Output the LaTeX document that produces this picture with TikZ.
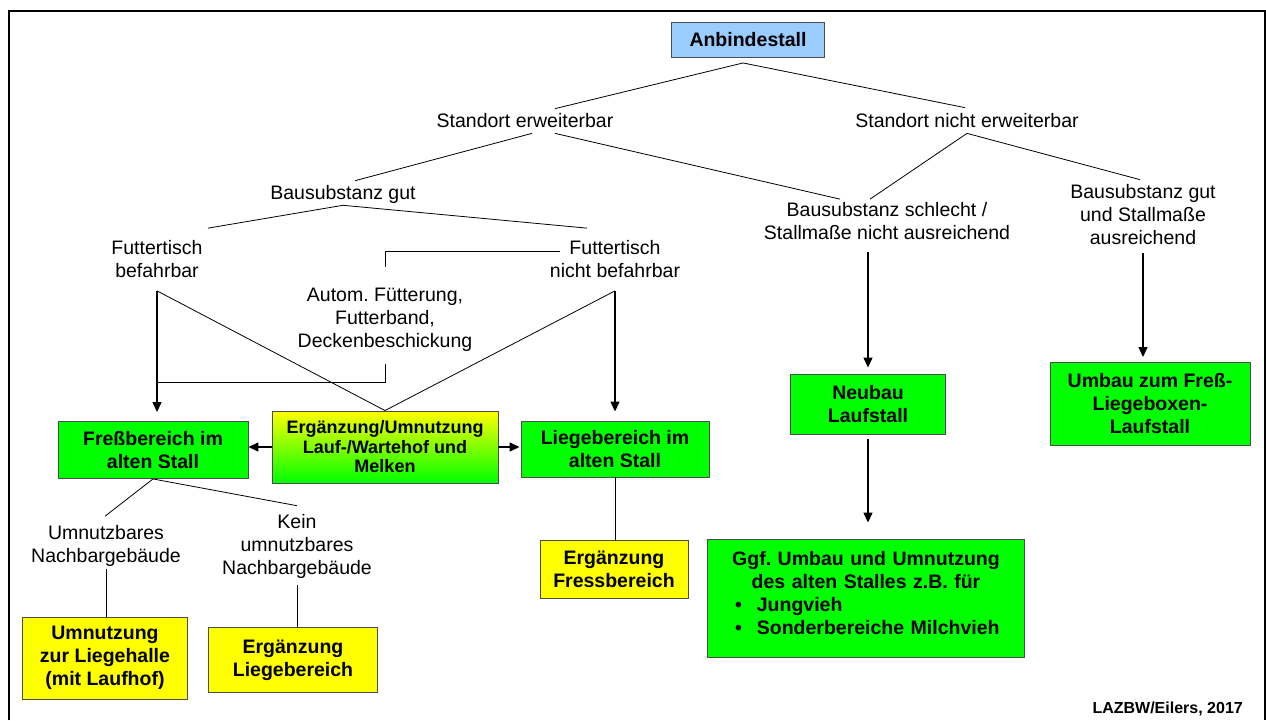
\documentclass[tikz,border=0pt]{standalone}
\usepackage{fontspec}
\setmainfont{Liberation Sans}
\usetikzlibrary{arrows.meta}

\definecolor{cBlau}{RGB}{153,204,255}
\definecolor{cGruen}{RGB}{0,255,0}
\definecolor{cGelb}{RGB}{255,255,0}

\tikzset{
  txt/.style={font=\fontsize{19.5}{23}\selectfont, align=center, inner sep=0pt},
  kasten/.style={draw=black!70, line width=0.9pt, font=\fontsize{19.5}{23}\selectfont\bfseries, align=center, inner sep=0pt},
  gruenbox/.style={kasten, fill=cGruen},
  gelbbox/.style={kasten, fill=cGelb},
  linie/.style={line width=0.8pt},
  pfeil/.style={line width=1.3pt, -{Triangle[length=10pt,width=9pt]}},
}

\begin{document}
\frenchspacing
\begin{tikzpicture}[x=1pt, y=-1pt]
    \useasboundingbox (0,0) rectangle (1266,720);

    % 枠
    \draw [line width=2pt] (9,720) -- (9,11) -- (1265,11) -- (1265,720);

    % ノードの定義
    \node[kasten, fill=cBlau, minimum width=153pt, minimum height=35pt] (anb) at (748,40) {Anbindestall};
    \node[txt] (se) at (525,121) {Standort erweiterbar};
    \node[txt] (sne) at (967,121) {Standort nicht erweiterbar};
    \node[txt] (bg) at (343,194) {Bausubstanz gut};
    \node[txt] (bs) at (887,221) {Bausubstanz schlecht /\\Stallmaße nicht ausreichend};
    \node[txt] (bga) at (1143,215) {Bausubstanz gut\\und Stallmaße\\ausreichend};
    \node[txt] (ftb) at (157,259) {Futtertisch\\befahrbar};
    \node[txt] (ftnb) at (615,259) {Futtertisch\\nicht befahrbar};
    \node[txt] (auto) at (385,320) {Autom. Fütterung,\\Futterband,\\Deckenbeschickung};
    \coordinate (zuf) at (157,382);

    \node[gruenbox, minimum width=190pt, minimum height=57pt] (fress) at (153,450) {Freßbereich im\\alten Stall};
    \node[kasten, top color=cGelb, bottom color=cGruen, minimum width=226pt, minimum height=72pt, font=\fontsize{18}{19.5}\selectfont\bfseries] (erg) at (385,447) {Ergänzung/Umnutzung\\Lauf-/Wartehof und\\Melken};
    \node[gruenbox, minimum width=188pt, minimum height=56pt] (lieg) at (615,449) {Liegebereich im\\alten Stall};
    \node[gruenbox, minimum width=155pt, minimum height=60pt] (neu) at (868,404) {Neubau\\Laufstall};
    \node[gruenbox, minimum width=200pt, minimum height=83pt] (umb) at (1150,404) {Umbau zum Freß-\\Liegeboxen-\\Laufstall};
    \node[gruenbox, minimum width=317pt, minimum height=118pt, text width=290pt, align=left] (ggf) at (866,598) {\centering Ggf. Umbau und Umnutzung\\des alten Stalles z.B. für\par\raggedright\hspace*{14pt}\textbullet\hspace{15pt}Jungvieh\\\hspace*{14pt}\textbullet\hspace{15pt}Sonderbereiche Milchvieh\rule[-10pt]{0pt}{10pt}};

    \node[txt] (un) at (106,546) {Umnutzbares\\Nachbargebäude};
    \node[txt] (kein) at (297,546) {Kein\\umnutzbares\\Nachbargebäude};
    \node[gelbbox, minimum width=165pt, minimum height=82pt] (uml) at (105,658) {Umnutzung\\zur Liegehalle\\(mit Laufhof)};
    \node[gelbbox, minimum width=169pt, minimum height=65pt] (ergl) at (293,660) {Ergänzung\\Liegebereich};
    \node[gelbbox, minimum width=148pt, minimum height=58pt] (ergf) at (614,569) {Ergänzung\\Fressbereich};

    \node[font=\fontsize{16}{19}\selectfont\bfseries, anchor=east, inner sep=0pt] (quelle) at (1243,709) {LAZBW/Eilers, 2017};

    % 線の描画
    \draw [linie] ([xshift=-5pt,yshift=-5pt]anb.south) -- ([xshift=30pt,yshift=5pt]se.north);
    \draw [linie] ([xshift=-5pt,yshift=-5pt]anb.south) -- ([xshift=-2pt,yshift=6pt]sne.north);
    \draw [linie] ([xshift=7pt,yshift=-5pt]se.south) -- ([xshift=12pt,yshift=4pt]bg.north);
    \draw [linie] ([xshift=30pt,yshift=-5pt]se.south) -- ([xshift=-47pt,yshift=3pt]bs.north);
    \draw [linie] ([yshift=-5pt]sne.south) -- ([xshift=-17pt,yshift=3pt]bs.north);
    \draw [linie] ([yshift=-5pt]sne.south) -- ([xshift=-3pt,yshift=5pt]bga.north);
    \draw [linie] ([yshift=-2pt]bg.south) -- ([xshift=51pt,yshift=12pt]ftb.north);
    \draw [linie] ([yshift=-2pt]bg.south) -- ([xshift=-28pt,yshift=12pt]ftnb.north);
    \draw [linie] ([xshift=10pt,yshift=8pt]ftnb.west) -| ([yshift=21pt]auto.north);
    \draw [linie] ([yshift=-12pt]auto.south) |- (zuf);
    \draw [linie] ([yshift=-13pt]ftb.south) -- (erg.north);
    \draw [linie] ([yshift=-13pt]ftnb.south) -- (erg.north);
    \draw [linie] (fress.south) -- ([xshift=-1pt,yshift=9pt]un.north);
    \draw [linie] (fress.south) -- ([yshift=8pt]kein.north);
    \draw [linie, shorten <=2pt] (un.south) -- (un.south |- uml.north);
    \draw [linie, shorten <=7pt] (kein.south) -- (kein.south |- ergl.north);
    \draw [linie] (lieg.south) -- (lieg.south |- ergf.north);

    % 矢印
    \draw [pfeil, shorten >=9pt] ([yshift=-13pt]ftb.south) -- (ftb.south |- fress.north);
    \draw [pfeil, shorten >=9pt] ([yshift=-13pt]ftnb.south) -- (lieg.north);
    \draw [pfeil] (erg.west) -- (erg.west -| fress.east);
    \draw [pfeil, shorten >=1pt] (erg.east) -- (erg.east -| lieg.west);
    \draw [pfeil, shorten <=12pt, shorten >=6pt] (neu.north |- bs.south) -- (neu.north);
    \draw [pfeil, shorten <=5pt, shorten >=16pt] (neu.south) -- (neu.south |- ggf.north);
    \draw [pfeil, shorten <=8pt, shorten >=5pt] (bga.south) -- (bga.south |- umb.north);

\end{tikzpicture}
\end{document}
